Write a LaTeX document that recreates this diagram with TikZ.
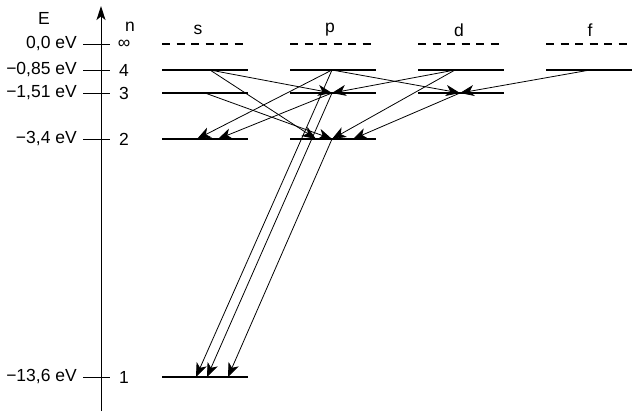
\documentclass[tikz,border=0pt]{standalone}
\usepackage{fontspec}
\setmainfont{Liberation Sans}
\usepackage{tikz}
\usetikzlibrary{arrows.meta,positioning}
\tikzstyle{level} = [line width=2pt]
\tikzstyle{freelevel} = [level, dash pattern=on 8pt off 6.5pt]
\tikzstyle{coord} = [coordinate]
\tikzstyle{tickline} = [line width=0.8pt]
\tikzstyle{lbl} = [font=\fontsize{17.5}{21}\selectfont, inner sep=0pt]
\tikzstyle{transition} = [-{Stealth[length=14pt,width=11pt,inset=4pt]}, line width=0.8pt]

\begin{document}
\begin{tikzpicture}[x=1pt,y=-1pt]
		\useasboundingbox (0,0) rectangle (640,420);
		
		% energy axis
		\node[coord] (axbot) at (101,411) {};
		\node[coord] (axtop) at (101,6) {};
		\draw[-{Stealth[length=14pt,width=9pt,inset=3.5pt]}, line width=1pt] (axbot) -- (axtop);
		\node[lbl] (E) at (44,18) {E};
		\node[lbl] (n) at (130,27) {n};
		
		\foreach \k/\y/\en/\nn in {inf/44/{0,0 eV}/∞, 4/70/{−0,85 eV}/4, 3/93/{−1,51 eV}/3, 2/139/{−3,4 eV}/2, 1/377/{−13,6 eV}/1} {
			\draw[tickline] (83,\y) -- (110,\y);
			\node[lbl, anchor=east] (eV\k) at (77,\y) {\en};
			\node[lbl] (num\k) at (124,\y) {\nn};
		}
		
		% columns
		\foreach \c/\x/\lx in {s/162/198, p/290/330, d/418/459, f/546/590} {
			\node[lbl] (\c) at (\lx,30) {\c};
			\draw[freelevel] (\x,44) -- ++(86,0);
		}
		\foreach \x/\y in {162/377, 162/139, 162/93, 162/70, 290/139, 290/93, 290/70, 418/93, 418/70, 546/70}
			\draw[level] (\x,\y) -- ++(86,0);
		
		\node[coord] (s4) at (210,70) {};
		\node[coord] (s3) at (205,93) {};
		\node[coord] (p4) at (332,70) {};
		\node[coord] (p3) at (332,93) {};
		\node[coord] (p2) at (332,139) {};
		\node[coord] (d4) at (455,70) {};
		\node[coord] (d3) at (460,93) {};
		\node[coord] (f4) at (590,70) {};
		\node[coord] (s2a) at (197,139) {};
		\node[coord] (s2b) at (218,139) {};
		\node[coord] (p2a) at (316,139) {};
		\node[coord] (p2b) at (353,139) {};
		\node[coord] (s1a) at (196,377) {};
		\node[coord] (s1b) at (207,377) {};
		\node[coord] (s1c) at (228,377) {};
		
		\draw[transition] (s4) -- (p3);
		\draw[transition] (s4) -- (p2a);
		\draw[transition] (s3) -- (p2);
		\draw[transition] (p4) -- (s2a);
		\draw[transition] (p3) -- (s2b);
		\draw[transition] (p4) -- (d3);
		\draw[transition] (p4) -- (s1a);
		\draw[transition] (p3) -- (s1b);
		\draw[transition] (p2) -- (s1c);
		\draw[transition] (d4) -- (p3);
		\draw[transition] (d4) -- (p2);
		\draw[transition] (d3) -- (p2b);
		\draw[transition] (f4) -- (d3);
	\end{tikzpicture}
\end{document}
